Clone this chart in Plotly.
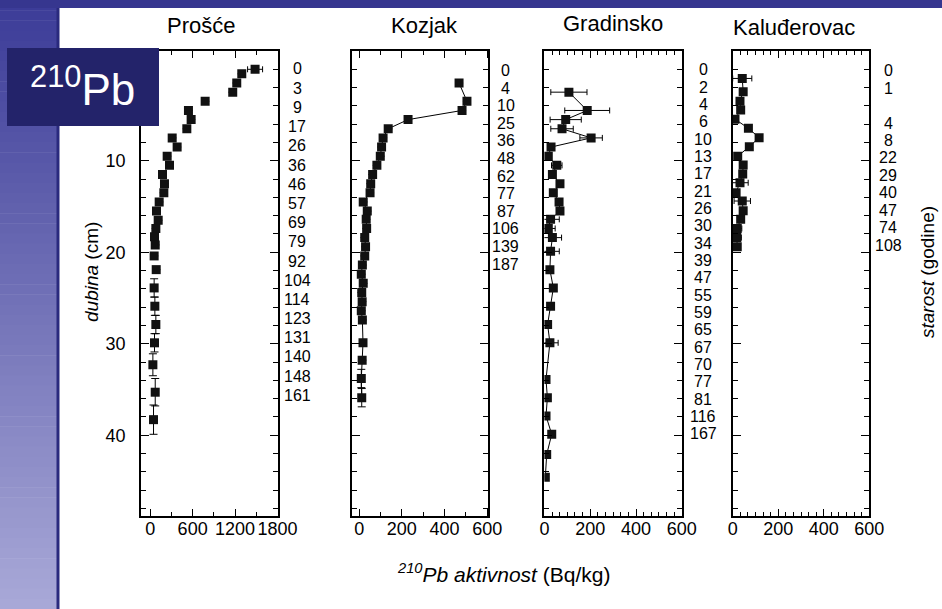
import plotly.graph_objects as go

W, H = 942, 609
FONT = "Arial, Liberation Sans, sans-serif"

# ---------------- data ----------------
lakes = ["Prošće", "Kozjak", "Gradinsko", "Kaluđerovac"]

pros_depth = [0, 0.5, 1.5, 2.5, 3.5, 4.5, 5.5, 6.5, 7.5, 8.5, 9.5, 10.5, 11.5, 12.5, 13.5,
              14.5, 15.5, 16.5, 17.4, 18.3, 19.2, 20.4, 21.9, 23.9, 25.9, 27.9, 29.9, 32.3,
              35.3, 38.3]
pros_act = [1483, 1295, 1224, 1167, 777, 541, 579, 518, 311, 381, 240, 273, 174, 202, 193,
            127, 89, 113, 80, 61, 71, 56, 85, 56, 66, 80, 61, 38, 71, 47]
pros_ex = [106, 0, 0, 0, 0, 0, 0, 0, 0, 0, 0, 0, 0, 0, 0,
           0, 0, 0, 0, 0, 0, 0, 0, 0, 0, 0, 0, 0, 0, 0]
pros_ey = [0, 0, 0, 0, 0, 0, 0, 0, 0, 0, 0, 0, 0, 0, 0,
           0, 0, 0, 0, 0, 0, 0, 0, 1, 1, 1, 1, 1.2, 1.5, 1.6]
pros_age = ["0", "3", "9", "17", "26", "36", "46", "57", "69", "79", "92", "104", "114",
            "123", "131", "140", "148", "161"]

koz_depth = [1.5, 3.5, 4.5, 5.5, 6.5, 7.5, 8.5, 9.5, 10.5, 11.5, 12.5, 13.5, 14.5, 15.5,
             16.4, 17.4, 18.4, 19.4, 20.4, 21.4, 22.4, 23.4, 24.4, 25.4, 26.4, 27.4, 29.9,
             31.8, 33.8, 35.9]
koz_act = [468, 505, 482, 229, 136, 112, 105, 99, 83, 63, 54, 51, 19, 38,
           33, 35, 26, 30, 26, 15, 10, 19, 12, 14, 10, 15, 18, 14, 10, 12]
koz_ex = [12, 12, 12, 0, 0, 0, 0, 0, 0, 0, 0, 0, 0, 0,
          0, 0, 0, 0, 0, 0, 0, 0, 0, 0, 0, 0, 0, 0, 0, 0]
koz_ey = [0, 0, 0, 0, 0, 0, 0, 0, 0, 0, 0, 0, 0, 0,
          0, 0, 0, 0, 0, 0, 0, 0, 0, 0, 0, 0, 0, 0, 1, 1]
koz_age = ["0", "4", "10", "25", "36", "48", "62", "77", "87", "106", "139", "187"]

grad_depth = [2.5, 4.5, 5.5, 6.5, 7.5, 8.5, 9.5, 10.5, 11.5, 12.5, 13.5, 14.5, 15.5, 16.4,
              17.4, 18.4, 19.9, 21.9, 23.9, 25.9, 27.9, 29.9, 33.9, 35.9, 37.9, 39.9, 42.1,
              44.6]
grad_act = [107, 187, 93, 77, 204, 29, 17, 54, 35, 68, 39, 64, 68, 27,
            17, 35, 27, 24, 39, 27, 14, 24, 7, 13, 7, 32, 10, 4]
grad_ex = [79, 98, 68, 49, 49, 12, 0, 23, 0, 0, 0, 0, 0, 38,
           30, 40, 38, 0, 0, 0, 0, 36, 0, 0, 0, 0, 0, 0]
grad_age = ["0", "2", "4", "6", "10", "13", "17", "21", "26", "30", "34", "39", "47", "55",
            "59", "65", "67", "70", "77", "81", "116", "167"]

kal_depth = [1.0, 2.45, 3.5, 4.45, 5.45, 6.45, 7.47, 8.46, 9.5, 10.46, 11.45, 12.4, 13.5,
             14.4, 15.45, 16.4, 17.4, 18.4, 19.4]
kal_act = [42, 46, 32, 35, 10, 69, 116, 73, 22, 46, 44, 32, 15, 42, 46, 35, 20, 18, 20]
kal_ex = [42, 0, 0, 0, 0, 0, 0, 0, 0, 0, 0, 36, 0, 36, 0, 0, 20, 20, 0]
kal_age = ["0", "1", "", "4", "8", "22", "29", "40", "47", "74", "108"]

x_ranges = [[-130, 1800], [-35, 605], [0, 600], [0, 600]]
x_major = [[0, 600, 1200, 1800], [0, 200, 400, 600], [0, 200, 400, 600], [0, 200, 400, 600]]
x_minor = [300, 100, 200 / 6, 200 / 6]
depth_range = [48.8, -2]
depth_ticks = [10, 20, 30, 40]

# ---------------- layout geometry (pixels) ----------------
panel_px = [(141, 277.5), (351.7, 488.3), (544.4, 681.8), (732.7, 869.3)]
top_px, bot_px = 51, 515.7
title_px = [(201, 26), (424, 26), (613, 24), (794, 28)]
age_x_px = [297, 505.5, 703, 888]
age_y0 = [69, 70.5, 70, 70.7]
age_step = [19.2, 17.6, 17.33, 17.45]


def px(x):
    return x / W


def py(y):
    return 1 - y / H


series = [
    (pros_depth, pros_act, pros_ex, pros_ey, False),
    (koz_depth, koz_act, koz_ex, koz_ey, True),
    (grad_depth, grad_act, grad_ex, None, True),
    (kal_depth, kal_act, kal_ex, None, True),
]
ages = [pros_age, koz_age, grad_age, kal_age]

fig = go.Figure()
layout = dict(
    width=W, height=H, margin=dict(l=0, r=0, t=0, b=0, pad=0, autoexpand=False),
    paper_bgcolor="white", plot_bgcolor="rgba(0,0,0,0)",
    showlegend=False, font=dict(family=FONT, color="black"),
)

annotations = []
shapes = []

for i, (d, a, ex, ey, lined) in enumerate(series):
    n = "" if i == 0 else str(i + 1)
    tr = go.Scatter(
        x=a, y=d, xaxis="x" + n, yaxis="y" + n,
        mode="lines+markers" if lined else "markers",
        line=dict(color="black", width=1),
        marker=dict(symbol="square", size=9, color="#111111"),
        error_x=dict(type="data", array=ex, visible=True, color="black", thickness=1, width=3),
    )
    if ey is not None:
        tr.error_y = dict(type="data", array=ey, visible=True, color="black", thickness=1, width=4)
    fig.add_trace(tr)

    x0, x1 = panel_px[i]
    layout["xaxis" + n] = dict(
        domain=[px(x0), px(x1)], range=x_ranges[i], anchor="y" + n, automargin=False,
        tickmode="array", tickvals=x_major[i], ticks="inside", ticklen=7, tickwidth=1.2,
        tickcolor="black", mirror="ticks", showline=True, linecolor="black", linewidth=1.8,
        showgrid=False, zeroline=False, ticklabelstandoff=-4, tickangle=0,
        tickfont=dict(size=18, family=FONT, color="black"),
        minor=dict(dtick=x_minor[i], tick0=0, ticks="inside", ticklen=4, tickwidth=1,
                   tickcolor="black", showgrid=False),
    )
    layout["yaxis" + n] = dict(
        domain=[py(bot_px), py(top_px)], range=depth_range, anchor="x" + n, automargin=False,
        tickmode="array", tickvals=depth_ticks,
        showticklabels=(i == 0), ticks="inside", ticklen=8, tickwidth=1.2,
        tickcolor="black", mirror="ticks", showline=True, linecolor="black", linewidth=1.8,
        showgrid=False, zeroline=False, ticklabelstandoff=10, tickangle=0,
        tickfont=dict(size=18, family=FONT, color="black"),
        minor=dict(dtick=2, tick0=0, ticks="inside", ticklen=5, tickwidth=1,
                   tickcolor="black", showgrid=False),
    )

    tx, ty = title_px[i]
    annotations.append(dict(text=lakes[i], x=px(tx), y=py(ty), xref="paper", yref="paper",
                            showarrow=False, xanchor="center", yanchor="middle",
                            font=dict(size=22, family=FONT, color="black")))
    for k, lab in enumerate(ages[i]):
        if not lab:
            continue
        annotations.append(dict(text=lab, x=px(age_x_px[i]), y=py(age_y0[i] + k * age_step[i]),
                                xref="paper", yref="paper", showarrow=False,
                                xanchor="center", yanchor="middle",
                                font=dict(size=16, family=FONT, color="black")))

# axis titles and the isotope badge
annotations += [
    dict(text="<i>dubina</i> (cm)", x=px(91), y=py(272), xref="paper", yref="paper",
         xanchor="center", yanchor="middle",
         showarrow=False, textangle=-90, font=dict(size=19, family=FONT, color="black")),
    dict(text="<i>starost</i> (godine)", x=px(927), y=py(272), xref="paper", yref="paper",
         xanchor="center", yanchor="middle",
         showarrow=False, textangle=-90, font=dict(size=19, family=FONT, color="black")),
    dict(text="<i><sup>210</sup>Pb aktivnost</i> (Bq/kg)", x=px(503), y=py(573),
         xref="paper", yref="paper", showarrow=False, xanchor="center", yanchor="middle",
         font=dict(size=21, family=FONT, color="black")),
    dict(text="<sup>210</sup>Pb", x=px(82), y=py(86), xref="paper", yref="paper",
         showarrow=False, xanchor="center", yanchor="middle",
         font=dict(size=44, family=FONT, color="white")),
]

# slide frame: gradient strip on the left, header band, separator
top_rgb = (60, 60, 152)
bot_rgb = (168, 168, 215)
nb = 60
for k in range(nb):
    t = k / (nb - 1)
    c = tuple(int(round(top_rgb[j] + (bot_rgb[j] - top_rgb[j]) * t)) for j in range(3))
    shapes.append(dict(type="rect", xref="paper", yref="paper", layer="below",
                       x0=0, x1=px(57), y0=py(H * (k + 1) / nb + 0.5), y1=py(H * k / nb),
                       fillcolor="rgb(%d,%d,%d)" % c, line=dict(width=0)))
shapes += [
    dict(type="rect", xref="paper", yref="paper", layer="below",
         x0=0, x1=1, y0=py(8), y1=1, fillcolor="#36368f", line=dict(width=0)),
    dict(type="rect", xref="paper", yref="paper", layer="below",
         x0=px(56.5), x1=px(59.5), y0=0, y1=py(8), fillcolor="#2a2a7e", line=dict(width=0)),
    dict(type="rect", xref="paper", yref="paper", layer="above",
         x0=px(7), x1=px(159), y0=py(126), y1=py(48), fillcolor="#23236a", line=dict(width=0)),
]

layout["annotations"] = annotations
layout["shapes"] = shapes
fig.update_layout(**layout)
fig.write_html("out.html")
